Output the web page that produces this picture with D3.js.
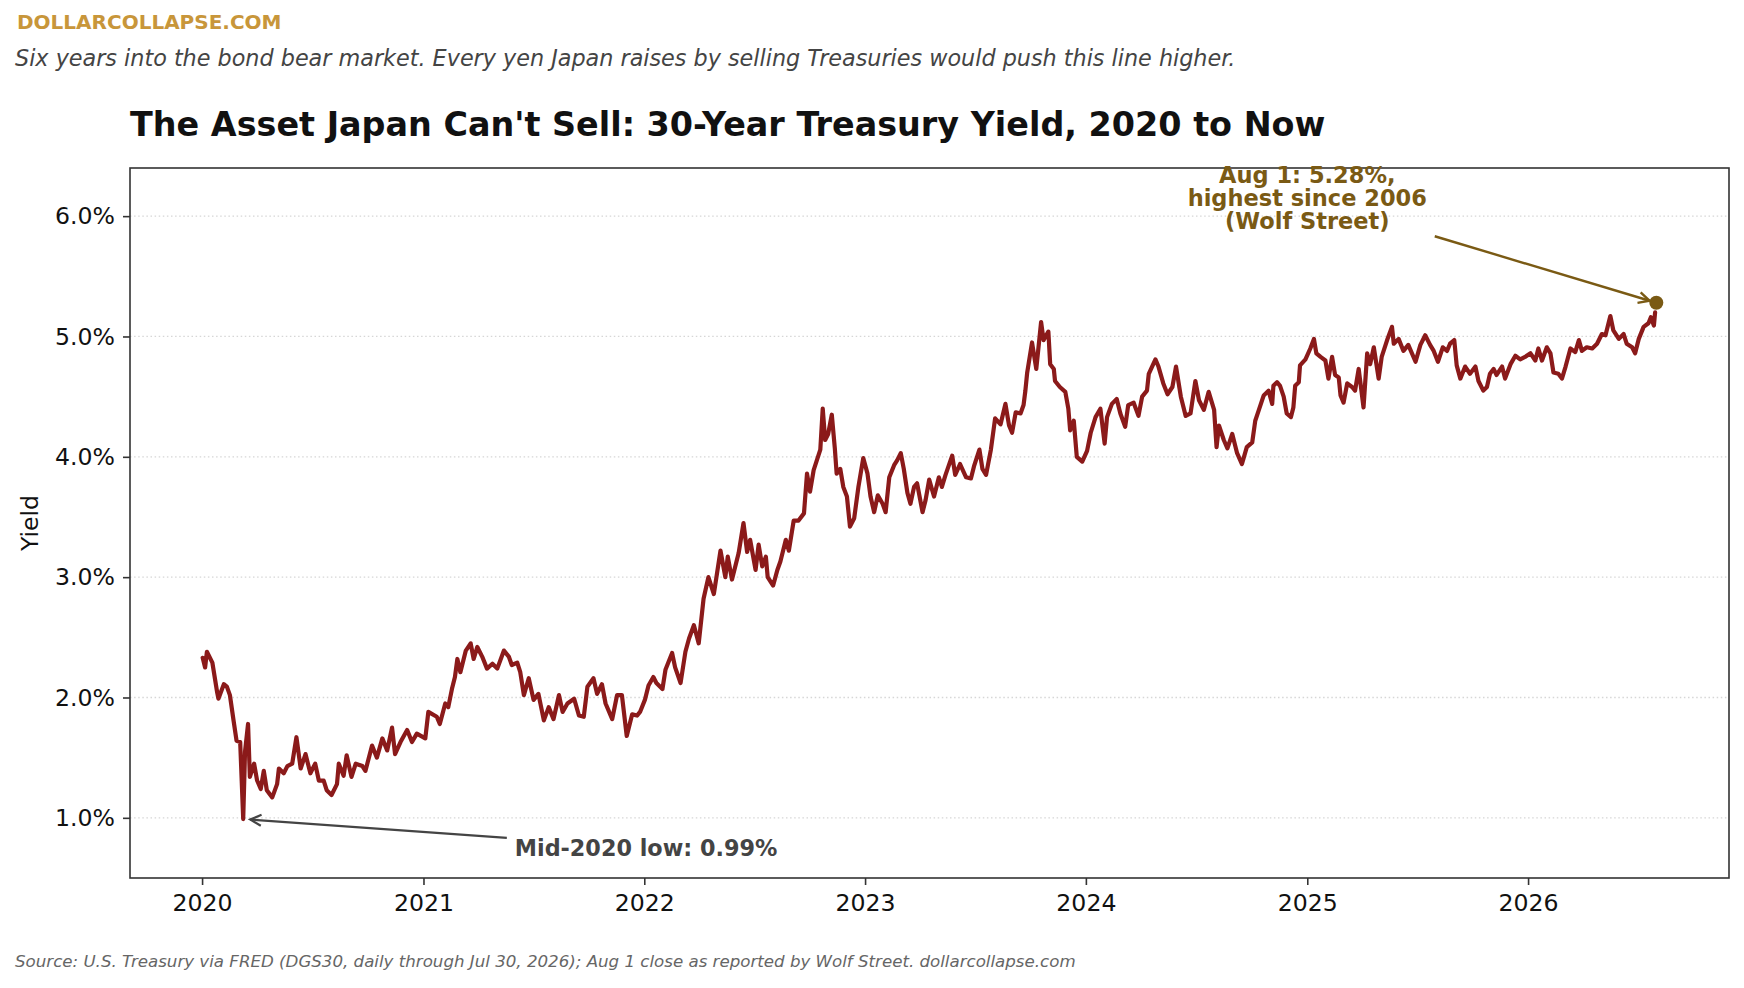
<!DOCTYPE html>
<html>
<head>
<meta charset="utf-8">
<script src="https://cdn.jsdelivr.net/npm/d3@7"></script>
<style>
  body { margin: 0; background: #fff; }
  svg { display: block; font-family: "DejaVu Sans", sans-serif; }
</style>
</head>
<body>
<script>
// 30-year yield ([date, percent])
const series2020 = [
  ["2020-01-02", 2.33], ["2020-01-06", 2.25], ["2020-01-09", 2.38], ["2020-01-18", 2.29], ["2020-01-26", 2.04],
  ["2020-01-28", 1.99], ["2020-02-06", 2.11], ["2020-02-11", 2.09], ["2020-02-16", 2.02], ["2020-02-22", 1.81],
  ["2020-02-27", 1.64], ["2020-03-04", 1.63], ["2020-03-09", 0.99], ["2020-03-12", 1.55], ["2020-03-17", 1.78],
  ["2020-03-20", 1.34], ["2020-03-27", 1.45], ["2020-04-01", 1.31], ["2020-04-07", 1.24], ["2020-04-12", 1.39],
  ["2020-04-17", 1.23], ["2020-04-26", 1.17], ["2020-05-04", 1.28], ["2020-05-07", 1.41], ["2020-05-15", 1.37],
  ["2020-05-21", 1.43], ["2020-05-29", 1.45], ["2020-06-05", 1.67], ["2020-06-12", 1.41], ["2020-06-20", 1.53],
  ["2020-06-28", 1.37], ["2020-07-06", 1.45], ["2020-07-12", 1.31], ["2020-07-20", 1.31], ["2020-07-25", 1.23],
  ["2020-08-02", 1.19], ["2020-08-11", 1.28], ["2020-08-14", 1.45], ["2020-08-22", 1.35], ["2020-08-27", 1.52],
  ["2020-09-04", 1.34], ["2020-09-11", 1.45], ["2020-09-22", 1.43], ["2020-09-27", 1.39], ["2020-10-08", 1.60],
  ["2020-10-16", 1.50], ["2020-10-25", 1.66], ["2020-11-02", 1.56], ["2020-11-10", 1.75], ["2020-11-15", 1.53],
  ["2020-11-24", 1.63], ["2020-12-05", 1.73], ["2020-12-13", 1.63], ["2020-12-21", 1.70]
];
const series2021 = [
  ["2021-01-04", 1.66], ["2021-01-09", 1.88], ["2021-01-23", 1.84], ["2021-01-28", 1.78], ["2021-02-06", 1.95],
  ["2021-02-11", 1.92], ["2021-02-17", 2.07], ["2021-02-22", 2.17], ["2021-02-26", 2.32], ["2021-03-03", 2.21],
  ["2021-03-12", 2.39], ["2021-03-20", 2.45], ["2021-03-25", 2.32], ["2021-03-31", 2.42], ["2021-04-08", 2.34],
  ["2021-04-16", 2.24], ["2021-04-25", 2.28], ["2021-05-03", 2.24], ["2021-05-14", 2.39], ["2021-05-22", 2.34],
  ["2021-05-27", 2.27], ["2021-06-05", 2.29], ["2021-06-10", 2.21], ["2021-06-16", 2.02], ["2021-06-24", 2.16],
  ["2021-07-02", 1.98], ["2021-07-10", 2.03], ["2021-07-19", 1.81], ["2021-07-27", 1.92], ["2021-08-04", 1.82],
  ["2021-08-13", 2.02], ["2021-08-19", 1.88], ["2021-08-27", 1.95], ["2021-09-07", 1.99], ["2021-09-15", 1.85],
  ["2021-09-23", 1.84], ["2021-09-29", 2.09], ["2021-10-09", 2.16], ["2021-10-15", 2.03], ["2021-10-23", 2.11],
  ["2021-10-29", 1.95], ["2021-11-09", 1.82], ["2021-11-17", 2.02], ["2021-11-25", 2.02], ["2021-12-03", 1.68],
  ["2021-12-12", 1.86], ["2021-12-20", 1.85], ["2021-12-25", 1.88]
];
const series2022 = [
  ["2022-01-02", 1.98], ["2022-01-08", 2.10], ["2022-01-16", 2.17], ["2022-01-21", 2.12], ["2022-01-31", 2.07],
  ["2022-02-05", 2.23], ["2022-02-16", 2.37], ["2022-02-21", 2.25], ["2022-03-02", 2.12], ["2022-03-10", 2.38],
  ["2022-03-16", 2.49], ["2022-03-24", 2.60], ["2022-04-01", 2.45], ["2022-04-09", 2.82], ["2022-04-17", 3.00],
  ["2022-04-26", 2.86], ["2022-05-07", 3.22], ["2022-05-15", 3.00], ["2022-05-19", 3.17], ["2022-05-26", 2.98],
  ["2022-06-06", 3.20], ["2022-06-14", 3.45], ["2022-06-20", 3.21], ["2022-06-25", 3.31], ["2022-07-04", 3.06],
  ["2022-07-09", 3.27], ["2022-07-15", 3.09], ["2022-07-21", 3.17], ["2022-07-24", 3.00], ["2022-08-02", 2.93],
  ["2022-08-09", 3.06], ["2022-08-14", 3.13], ["2022-08-23", 3.31], ["2022-08-28", 3.22], ["2022-09-05", 3.47],
  ["2022-09-13", 3.47], ["2022-09-22", 3.53], ["2022-09-27", 3.86], ["2022-10-02", 3.71], ["2022-10-08", 3.89],
  ["2022-10-19", 4.06], ["2022-10-23", 4.40], ["2022-10-27", 4.14], ["2022-11-01", 4.19], ["2022-11-07", 4.35],
  ["2022-11-12", 4.07], ["2022-11-15", 3.86], ["2022-11-21", 3.90], ["2022-11-26", 3.75], ["2022-12-02", 3.67],
  ["2022-12-07", 3.42], ["2022-12-14", 3.49], ["2022-12-21", 3.75], ["2022-12-29", 3.99]
];
const series2023 = [
  ["2023-01-05", 3.86], ["2023-01-10", 3.67], ["2023-01-16", 3.54], ["2023-01-22", 3.68], ["2023-01-30", 3.61],
  ["2023-02-04", 3.54], ["2023-02-10", 3.83], ["2023-02-18", 3.93], ["2023-02-23", 3.97], ["2023-03-01", 4.03],
  ["2023-03-06", 3.90], ["2023-03-12", 3.70], ["2023-03-17", 3.61], ["2023-03-23", 3.75], ["2023-03-28", 3.78],
  ["2023-04-06", 3.54], ["2023-04-11", 3.64], ["2023-04-17", 3.81], ["2023-04-25", 3.67], ["2023-05-03", 3.83],
  ["2023-05-08", 3.75], ["2023-05-14", 3.85], ["2023-05-25", 4.01], ["2023-05-30", 3.85], ["2023-06-07", 3.94],
  ["2023-06-17", 3.83], ["2023-06-25", 3.82], ["2023-06-30", 3.92], ["2023-07-09", 4.06], ["2023-07-14", 3.90],
  ["2023-07-20", 3.85], ["2023-07-28", 4.06], ["2023-08-04", 4.32], ["2023-08-13", 4.27], ["2023-08-21", 4.44],
  ["2023-08-27", 4.26], ["2023-09-01", 4.20], ["2023-09-07", 4.37], ["2023-09-15", 4.36], ["2023-09-20", 4.43],
  ["2023-09-23", 4.55], ["2023-09-26", 4.70], ["2023-10-04", 4.95], ["2023-10-11", 4.73], ["2023-10-19", 5.12],
  ["2023-10-23", 4.97], ["2023-10-31", 5.04], ["2023-11-03", 4.77], ["2023-11-09", 4.73], ["2023-11-11", 4.63],
  ["2023-11-19", 4.58], ["2023-11-28", 4.54], ["2023-12-03", 4.40], ["2023-12-06", 4.22], ["2023-12-12", 4.30],
  ["2023-12-17", 4.00], ["2023-12-26", 3.96]
];
const series2024 = [
  ["2024-01-03", 4.05], ["2024-01-09", 4.20], ["2024-01-17", 4.33], ["2024-01-25", 4.40], ["2024-02-01", 4.11],
  ["2024-02-05", 4.33], ["2024-02-13", 4.44], ["2024-02-21", 4.48], ["2024-02-27", 4.36], ["2024-03-06", 4.25],
  ["2024-03-11", 4.43], ["2024-03-20", 4.45], ["2024-03-28", 4.34], ["2024-04-03", 4.50], ["2024-04-11", 4.55],
  ["2024-04-14", 4.69], ["2024-04-25", 4.81], ["2024-04-30", 4.75], ["2024-05-08", 4.61], ["2024-05-15", 4.52],
  ["2024-05-23", 4.58], ["2024-05-29", 4.75], ["2024-06-06", 4.50], ["2024-06-14", 4.34], ["2024-06-22", 4.36],
  ["2024-06-30", 4.63], ["2024-07-06", 4.47], ["2024-07-14", 4.39], ["2024-07-22", 4.54], ["2024-07-31", 4.39],
  ["2024-08-04", 4.08], ["2024-08-08", 4.26], ["2024-08-16", 4.14], ["2024-08-22", 4.07], ["2024-08-30", 4.19],
  ["2024-09-07", 4.03], ["2024-09-15", 3.94], ["2024-09-23", 4.08], ["2024-10-02", 4.12], ["2024-10-07", 4.30],
  ["2024-10-13", 4.39], ["2024-10-21", 4.51], ["2024-10-29", 4.55], ["2024-11-04", 4.44], ["2024-11-06", 4.59],
  ["2024-11-12", 4.62], ["2024-11-17", 4.59], ["2024-11-23", 4.50], ["2024-11-28", 4.36], ["2024-12-05", 4.33],
  ["2024-12-09", 4.41], ["2024-12-12", 4.59], ["2024-12-18", 4.62], ["2024-12-20", 4.76], ["2024-12-29", 4.81]
];
const series2025 = [
  ["2025-01-06", 4.90], ["2025-01-12", 4.98], ["2025-01-16", 4.86], ["2025-01-23", 4.83], ["2025-01-31", 4.80],
  ["2025-02-05", 4.65], ["2025-02-11", 4.83], ["2025-02-16", 4.68], ["2025-02-22", 4.66], ["2025-02-25", 4.51],
  ["2025-03-02", 4.45], ["2025-03-08", 4.61], ["2025-03-16", 4.58], ["2025-03-21", 4.55], ["2025-03-27", 4.73],
  ["2025-04-04", 4.41], ["2025-04-10", 4.86], ["2025-04-15", 4.77], ["2025-04-21", 4.91], ["2025-04-29", 4.65],
  ["2025-05-04", 4.83], ["2025-05-13", 4.97], ["2025-05-21", 5.08], ["2025-05-24", 4.94], ["2025-06-01", 4.98],
  ["2025-06-09", 4.88], ["2025-06-17", 4.93], ["2025-06-29", 4.79], ["2025-07-07", 4.93], ["2025-07-15", 5.01],
  ["2025-07-23", 4.93], ["2025-07-29", 4.88], ["2025-08-05", 4.79], ["2025-08-13", 4.91], ["2025-08-20", 4.88],
  ["2025-08-25", 4.94], ["2025-09-01", 4.97], ["2025-09-05", 4.76], ["2025-09-11", 4.65], ["2025-09-19", 4.75],
  ["2025-09-27", 4.69], ["2025-10-06", 4.75], ["2025-10-11", 4.63], ["2025-10-19", 4.55], ["2025-10-25", 4.58],
  ["2025-10-30", 4.69], ["2025-11-05", 4.73], ["2025-11-10", 4.68], ["2025-11-19", 4.75], ["2025-11-24", 4.65],
  ["2025-12-03", 4.77], ["2025-12-11", 4.84], ["2025-12-19", 4.81], ["2025-12-27", 4.83]
];
const series2026 = [
  ["2026-01-05", 4.86], ["2026-01-13", 4.80], ["2026-01-18", 4.90], ["2026-01-24", 4.80], ["2026-02-01", 4.91],
  ["2026-02-07", 4.86], ["2026-02-12", 4.70], ["2026-02-20", 4.69], ["2026-02-26", 4.65], ["2026-03-04", 4.75],
  ["2026-03-12", 4.90], ["2026-03-20", 4.87], ["2026-03-26", 4.97], ["2026-03-31", 4.88], ["2026-04-08", 4.91],
  ["2026-04-17", 4.90], ["2026-04-25", 4.94], ["2026-05-03", 5.02], ["2026-05-09", 5.01], ["2026-05-17", 5.17],
  ["2026-05-22", 5.05], ["2026-05-31", 4.98], ["2026-06-08", 5.02], ["2026-06-13", 4.94], ["2026-06-22", 4.91],
  ["2026-06-27", 4.86], ["2026-07-03", 4.98], ["2026-07-11", 5.08], ["2026-07-19", 5.11], ["2026-07-23", 5.16],
  ["2026-07-28", 5.09], ["2026-07-30", 5.20]
];

// Aug 1 close (Wolf Street), drawn as a separate dot
const latestPoint = ["2026-08-01", 5.28];

const yTicks = [1, 2, 3, 4, 5, 6];
const xTickYears = [2020, 2021, 2022, 2023, 2024, 2025, 2026];

const headerText = "DOLLARCOLLAPSE.COM";
const subtitleText = "Six years into the bond bear market. Every yen Japan raises by selling Treasuries would push this line higher.";
const titleText = "The Asset Japan Can't Sell: 30-Year Treasury Yield, 2020 to Now";
const sourceText = "Source: U.S. Treasury via FRED (DGS30, daily through Jul 30, 2026); Aug 1 close as reported by Wolf Street. dollarcollapse.com";
const lowLabel = "Mid-2020 low: 0.99%";
const highLabel = ["Aug 1: 5.28%,", "highest since 2006", "(Wolf Street)"];

// where the annotation texts sit, in data units
const lowLabelAt = ["2021-06-01", 0.75];
const highLabelAt = ["2025-01-01", 6.15];

// set the dimensions and margins of the graph
const W = 1744, H = 988;
const margin = { top: 168, right: 15, bottom: 110, left: 130 };
const width = W - margin.left - margin.right;
const height = H - margin.top - margin.bottom;

const lineColor = "#8b1a1a";
const goldColor = "#c8963a";
const brownColor = "#7a5a14";

const parse = d3.utcParse("%Y-%m-%d");

const data = [...series2020, ...series2021, ...series2022, ...series2023, ...series2024, ...series2025, ...series2026]
  .map(d => ({ date: parse(d[0]), value: d[1] }));
const latest = { date: parse(latestPoint[0]), value: latestPoint[1] };

const svg = d3.select("body")
  .append("svg")
  .attr("width", W)
  .attr("height", H);

const g = svg.append("g")
  .attr("transform", "translate(" + margin.left + "," + margin.top + ")");

// x: 5% padding each side, like the original plot
const first = data[0].date, last = latest.date;
const pad = (last - first) * 0.05;
const xScale = d3.scaleUtc()
  .domain([new Date(+first - pad), new Date(+last + pad)])
  .range([0, width]);

const yScale = d3.scaleLinear()
  .domain([0.5, 6.4])
  .range([height, 0]);

// dotted horizontal grid
g.append("g")
  .selectAll("line")
  .data(yTicks)
  .join("line")
  .attr("x1", 0)
  .attr("x2", width)
  .attr("y1", d => yScale(d))
  .attr("y2", d => yScale(d))
  .attr("stroke", "#d6d6d6")
  .attr("stroke-width", 1.3)
  .attr("stroke-dasharray", "1.5 2.6");

// the yield line
const line = d3.line()
  .x(d => xScale(d.date))
  .y(d => yScale(d.value));

g.append("path")
  .datum(data)
  .attr("fill", "none")
  .attr("stroke", lineColor)
  .attr("stroke-width", 4.2)
  .attr("stroke-linejoin", "round")
  .attr("stroke-linecap", "round")
  .attr("d", line);

// axes
const xAxis = g.append("g")
  .attr("transform", "translate(0," + height + ")")
  .call(d3.axisBottom(xScale)
    .tickValues(xTickYears.map(yr => new Date(Date.UTC(yr, 0, 1))))
    .tickFormat(d3.utcFormat("%Y"))
    .tickSize(7)
    .tickPadding(9));

const yAxis = g.append("g")
  .call(d3.axisLeft(yScale)
    .tickValues(yTicks)
    .tickFormat(d => d.toFixed(1) + "%")
    .tickSize(7)
    .tickPadding(8));

[xAxis, yAxis].forEach(a => {
  a.select(".domain").remove();
  a.selectAll(".tick line").attr("stroke", "#333").attr("stroke-width", 1.6);
  a.selectAll(".tick text")
    .attr("fill", "#111")
    .style("font-family", "DejaVu Sans")
    .style("font-size", "23.6px");
});

// frame
g.append("rect")
  .attr("width", width)
  .attr("height", height)
  .attr("fill", "none")
  .attr("stroke", "#333")
  .attr("stroke-width", 1.6);

// y label
svg.append("text")
  .attr("transform", "translate(38," + (margin.top + height / 2) + ") rotate(-90)")
  .attr("text-anchor", "middle")
  .style("font-size", "23.6px")
  .attr("fill", "#111")
  .text("Yield");

// latest dot
g.append("circle")
  .attr("cx", xScale(latest.date))
  .attr("cy", yScale(latest.value))
  .attr("r", 7)
  .attr("fill", brownColor);

// arrow from a label box to a point, like matplotlib's "->"
function arrow(labelNode, target, color, lw) {
  const b = labelNode.getBBox();
  const cx = b.x + b.width / 2, cy = b.y + b.height / 2;
  const dx = target[0] - cx, dy = target[1] - cy;
  const len = Math.hypot(dx, dy);
  const ux = dx / len, uy = dy / len;
  const t = Math.min((b.width / 2 + 4) / Math.abs(dx), (b.height / 2 + 4) / Math.abs(dy));
  const start = [cx + dx * t + ux * 4, cy + dy * t + uy * 4];
  const end = [target[0] - ux * 7, target[1] - uy * 7];
  const hl = 11, hw = 5.5;
  const back = [end[0] - ux * hl, end[1] - uy * hl];
  const p1 = [back[0] - uy * hw, back[1] + ux * hw];
  const p2 = [back[0] + uy * hw, back[1] - ux * hw];
  g.append("path")
    .attr("d", "M" + start + "L" + end)
    .attr("stroke", color)
    .attr("stroke-width", lw)
    .attr("fill", "none");
  g.append("path")
    .attr("d", "M" + p1 + "L" + end + "L" + p2)
    .attr("stroke", color)
    .attr("stroke-width", lw)
    .attr("stroke-linejoin", "miter")
    .attr("fill", "none");
}

// low annotation
const low = data.reduce((a, b) => (b.value < a.value ? b : a));
const lowText = g.append("text")
  .attr("x", xScale(parse(lowLabelAt[0])))
  .attr("y", yScale(lowLabelAt[1]))
  .attr("dy", "0.35em")
  .attr("fill", "#444")
  .style("font-size", "22.3px")
  .style("font-weight", "bold")
  .text(lowLabel);
arrow(lowText.node(), [xScale(low.date), yScale(low.value)], "#444", 2.2);

// high annotation
const highText = g.append("text")
  .attr("text-anchor", "middle")
  .attr("fill", brownColor)
  .style("font-size", "22.5px")
  .style("font-weight", "bold");
highText.selectAll("tspan")
  .data(highLabel)
  .join("tspan")
  .attr("x", xScale(parse(highLabelAt[0])))
  .attr("y", yScale(highLabelAt[1]))
  .attr("dy", (d, i) => (0.35 + (i - 1) * 1.02) + "em")
  .text(d => d);
arrow(highText.node(), [xScale(latest.date), yScale(latest.value)], brownColor, 2.4);

// header texts
svg.append("text")
  .attr("x", 17)
  .attr("y", 29)
  .attr("fill", goldColor)
  .style("font-size", "20px")
  .style("font-weight", "bold")
  .text(headerText);

svg.append("text")
  .attr("x", 15)
  .attr("y", 66)
  .attr("fill", "#444")
  .style("font-size", "22.3px")
  .style("font-style", "italic")
  .text(subtitleText);

svg.append("text")
  .attr("x", margin.left)
  .attr("y", 136)
  .attr("fill", "#111")
  .style("font-size", "33.4px")
  .style("font-weight", "bold")
  .text(titleText);

// footer
svg.append("text")
  .attr("x", 15)
  .attr("y", 967)
  .attr("fill", "#666")
  .style("font-size", "16.65px")
  .style("font-style", "italic")
  .text(sourceText);
</script>
</body>
</html>
